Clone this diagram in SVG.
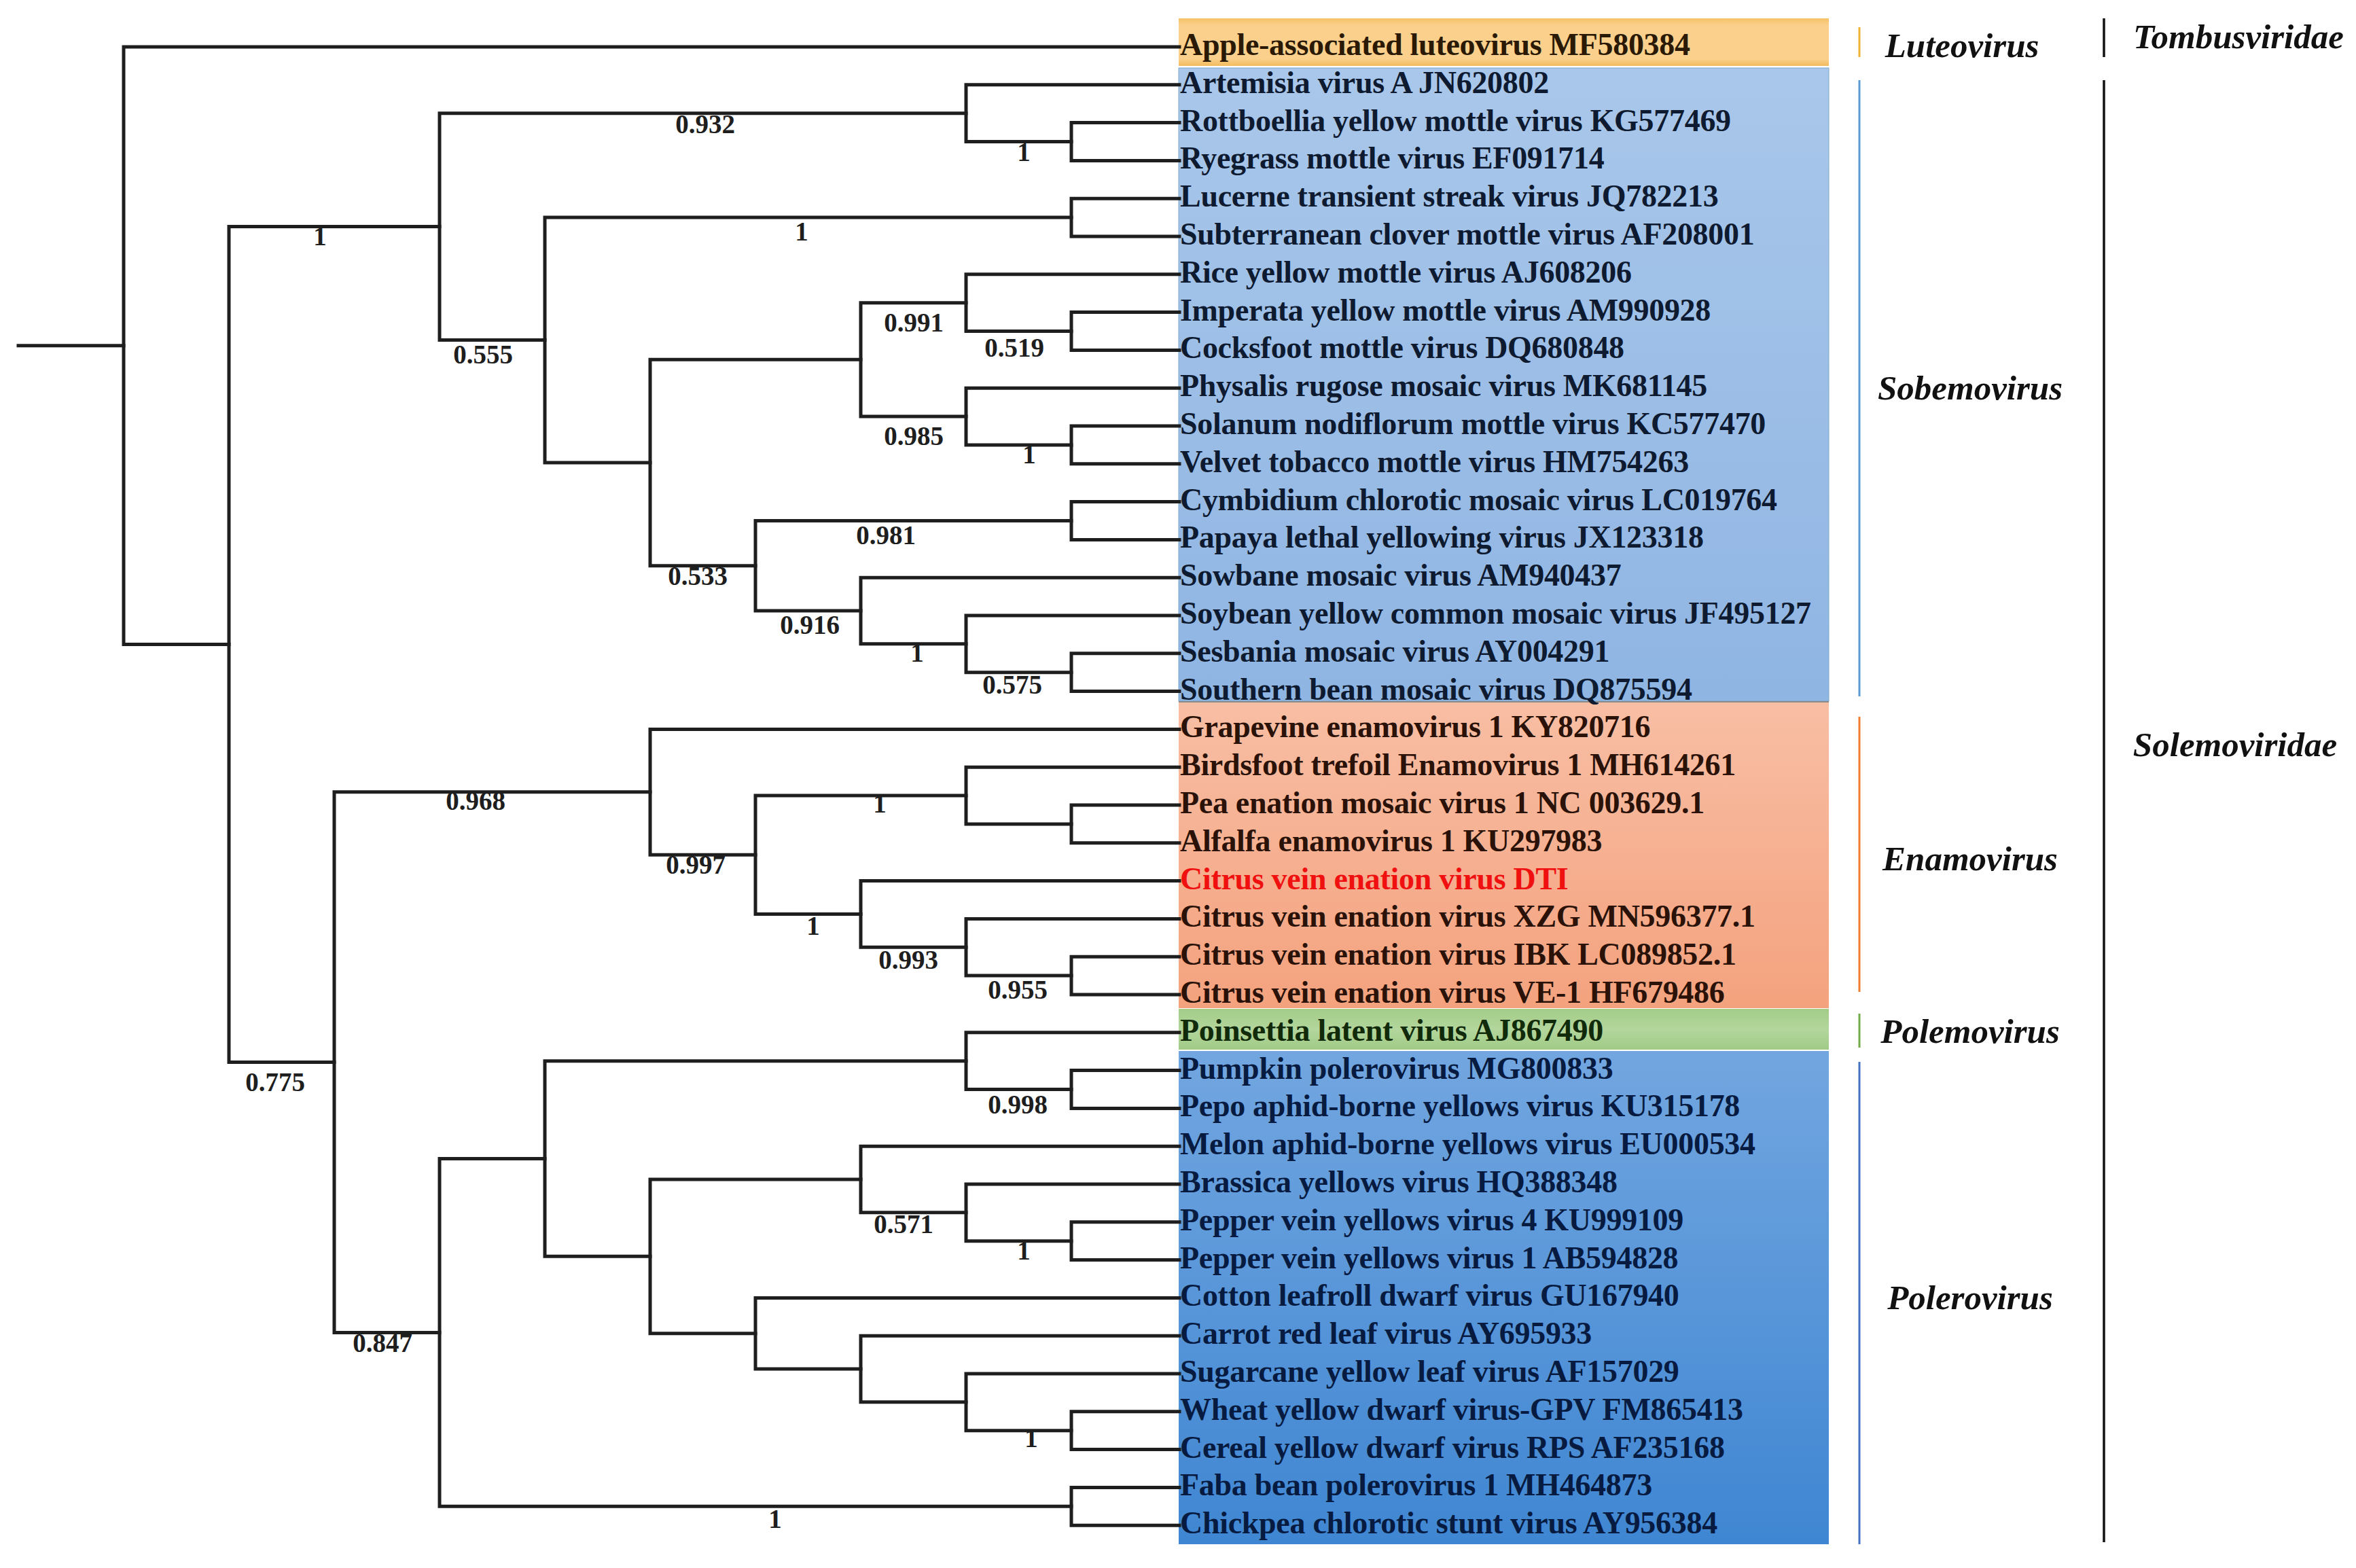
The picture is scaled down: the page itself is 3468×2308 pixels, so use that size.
<svg xmlns="http://www.w3.org/2000/svg" width="3468" height="2308" viewBox="0 0 3468 2308">
<defs>
<style>
.br{fill:none;stroke:#1e1e1e;stroke-width:5;stroke-linecap:square;stroke-linejoin:miter}
.lf{font-family:"Liberation Serif","Times New Roman",serif;font-weight:bold;font-size:46px;letter-spacing:-0.3px}
.sp{font-family:"Liberation Serif","Times New Roman",serif;font-weight:bold;font-size:39px;text-anchor:middle;fill:#1e1e1e}
.gn{font-family:"Liberation Serif","Times New Roman",serif;font-weight:bold;font-style:italic;font-size:51px;text-anchor:middle;fill:#111}
.t-ap{fill:#2a1a05}.t-sb{fill:#0e1a30}.t-en{fill:#2a1209}.t-pm{fill:#102a0a}.t-pl{fill:#071a40}
</style>
<linearGradient id="gAp" x1="0" y1="0" x2="0" y2="1"><stop offset="0" stop-color="#F6C266"/><stop offset="0.15" stop-color="#FAD08C"/><stop offset="0.85" stop-color="#FAD08C"/><stop offset="1" stop-color="#F3BB5C"/></linearGradient>
<linearGradient id="gSb" x1="0" y1="0" x2="0" y2="1"><stop offset="0" stop-color="#A9C7EA"/><stop offset="1" stop-color="#8FB5E3"/></linearGradient>
<linearGradient id="gEn" x1="0" y1="0" x2="0" y2="1"><stop offset="0" stop-color="#F8BEA4"/><stop offset="1" stop-color="#F4A27E"/></linearGradient>
<linearGradient id="gPm" x1="0" y1="0" x2="0" y2="1"><stop offset="0" stop-color="#A3CC88"/><stop offset="0.5" stop-color="#B3D69C"/><stop offset="1" stop-color="#A0CA86"/></linearGradient>
<linearGradient id="gPl" x1="0" y1="0" x2="0" y2="1"><stop offset="0" stop-color="#72A6E0"/><stop offset="1" stop-color="#3F86D2"/></linearGradient>
</defs>
<rect x="0" y="0" width="3468" height="2308" fill="#ffffff"/>

<g id="clade-boxes">
<rect id="box-luteovirus" x="1735" y="27" width="957" height="70" fill="url(#gAp)"/>
<rect id="box-sobemovirus" x="1735" y="100" width="957" height="932" fill="url(#gSb)" stroke="#7FA8C8" stroke-width="1"/>
<rect id="box-enamovirus" x="1735" y="1034" width="957" height="450" fill="url(#gEn)"/>
<line x1="1735" y1="1033" x2="2692" y2="1033" stroke="#8a8a8a" stroke-width="2"/>
<rect id="box-polemovirus" x="1735" y="1485" width="957" height="60" fill="url(#gPm)"/>
<rect id="box-polerovirus" x="1735" y="1547" width="957" height="726" fill="url(#gPl)"/>
</g>

<g id="connectors">
<path class="br" d="M27,508.8 H182"/>
<path class="br" d="M1736,69 H182 V948.6 H337"/>
<path class="br" d="M647,333.6 H337 V1563.6 H492"/>
<path class="br" d="M1422,166.65 H647 V500.6 H802"/>
<path class="br" d="M1736,124.8 H1422 V208.5 H1577"/>
<path class="br" d="M1736,180.6 H1577 V236.4 H1736"/>
<path class="br" d="M1577,320.1 H802 V681.05 H957"/>
<path class="br" d="M1736,292.2 H1577 V348 H1736"/>
<path class="br" d="M1267,529.35 H957 V832.75 H1112"/>
<path class="br" d="M1422,445.65 H1267 V613.05 H1422"/>
<path class="br" d="M1736,403.8 H1422 V487.5 H1577"/>
<path class="br" d="M1736,459.6 H1577 V515.4 H1736"/>
<path class="br" d="M1736,571.2 H1422 V654.9 H1577"/>
<path class="br" d="M1736,627 H1577 V682.8 H1736"/>
<path class="br" d="M1577,766.5 H1112 V899 H1267"/>
<path class="br" d="M1736,738.6 H1577 V794.4 H1736"/>
<path class="br" d="M1736,850.2 H1267 V947.85 H1422"/>
<path class="br" d="M1736,906 H1422 V989.7 H1577"/>
<path class="br" d="M1736,961.8 H1577 V1017.6 H1736"/>
<path class="br" d="M957,1165.8 H492 V1961.4 H647"/>
<path class="br" d="M1736,1073.4 H957 V1258.2 H1112"/>
<path class="br" d="M1422,1171.05 H1112 V1345.4 H1267"/>
<path class="br" d="M1736,1129.2 H1422 V1212.9 H1577"/>
<path class="br" d="M1736,1185 H1577 V1240.8 H1736"/>
<path class="br" d="M1736,1296.6 H1267 V1394.25 H1422"/>
<path class="br" d="M1736,1352.4 H1422 V1436.1 H1577"/>
<path class="br" d="M1736,1408.2 H1577 V1464 H1736"/>
<path class="br" d="M802,1705.5 H647 V2217.3 H1577"/>
<path class="br" d="M1736,2189.4 H1577 V2245.2 H1736"/>
<path class="br" d="M1422,1561.65 H802 V1849.35 H957"/>
<path class="br" d="M1736,1519.8 H1422 V1603.5 H1577"/>
<path class="br" d="M1736,1575.6 H1577 V1631.4 H1736"/>
<path class="br" d="M1267,1736 H957 V1962.7 H1112"/>
<path class="br" d="M1736,1687.2 H1267 V1784.85 H1422"/>
<path class="br" d="M1736,1743 H1422 V1826.7 H1577"/>
<path class="br" d="M1736,1798.8 H1577 V1854.6 H1736"/>
<path class="br" d="M1736,1910.4 H1112 V2015 H1267"/>
<path class="br" d="M1736,1966.2 H1267 V2063.85 H1422"/>
<path class="br" d="M1736,2022 H1422 V2105.7 H1577"/>
<path class="br" d="M1736,2077.8 H1577 V2133.6 H1736"/>
</g>

<g id="support-values">
<text class="sp" x="1038" y="196">0.932</text>
<text class="sp" x="1507" y="237">1</text>
<text class="sp" x="471" y="361">1</text>
<text class="sp" x="711" y="535">0.555</text>
<text class="sp" x="1180" y="354">1</text>
<text class="sp" x="1345" y="488">0.991</text>
<text class="sp" x="1493" y="525">0.519</text>
<text class="sp" x="1345" y="655">0.985</text>
<text class="sp" x="1515" y="682">1</text>
<text class="sp" x="1304" y="801">0.981</text>
<text class="sp" x="1027" y="861">0.533</text>
<text class="sp" x="1192" y="933">0.916</text>
<text class="sp" x="1350" y="974">1</text>
<text class="sp" x="1490" y="1021">0.575</text>
<text class="sp" x="700" y="1192">0.968</text>
<text class="sp" x="1024" y="1286">0.997</text>
<text class="sp" x="1295" y="1196">1</text>
<text class="sp" x="1197" y="1376">1</text>
<text class="sp" x="1337" y="1426">0.993</text>
<text class="sp" x="1498" y="1470">0.955</text>
<text class="sp" x="405" y="1606">0.775</text>
<text class="sp" x="1498" y="1639">0.998</text>
<text class="sp" x="1330" y="1815">0.571</text>
<text class="sp" x="1507" y="1854">1</text>
<text class="sp" x="563" y="1990">0.847</text>
<text class="sp" x="1518" y="2130">1</text>
<text class="sp" x="1141" y="2249">1</text>
</g>

<g id="leaves">
<text id="leaf-1" class="lf t-ap" x="1737" y="81">Apple-associated luteovirus MF580384</text>
<text id="leaf-2" class="lf t-sb" x="1737" y="136.8">Artemisia virus A JN620802</text>
<text id="leaf-3" class="lf t-sb" x="1737" y="192.6">Rottboellia yellow mottle virus KG577469</text>
<text id="leaf-4" class="lf t-sb" x="1737" y="248.4">Ryegrass mottle virus EF091714</text>
<text id="leaf-5" class="lf t-sb" x="1737" y="304.2">Lucerne transient streak virus JQ782213</text>
<text id="leaf-6" class="lf t-sb" x="1737" y="360">Subterranean clover mottle virus AF208001</text>
<text id="leaf-7" class="lf t-sb" x="1737" y="415.8">Rice yellow mottle virus AJ608206</text>
<text id="leaf-8" class="lf t-sb" x="1737" y="471.6">Imperata yellow mottle virus AM990928</text>
<text id="leaf-9" class="lf t-sb" x="1737" y="527.4">Cocksfoot mottle virus DQ680848</text>
<text id="leaf-10" class="lf t-sb" x="1737" y="583.2">Physalis rugose mosaic virus MK681145</text>
<text id="leaf-11" class="lf t-sb" x="1737" y="639">Solanum nodiflorum mottle virus KC577470</text>
<text id="leaf-12" class="lf t-sb" x="1737" y="694.8">Velvet tobacco mottle virus HM754263</text>
<text id="leaf-13" class="lf t-sb" x="1737" y="750.6">Cymbidium chlorotic mosaic virus LC019764</text>
<text id="leaf-14" class="lf t-sb" x="1737" y="806.4">Papaya lethal yellowing virus JX123318</text>
<text id="leaf-15" class="lf t-sb" x="1737" y="862.2">Sowbane mosaic virus AM940437</text>
<text id="leaf-16" class="lf t-sb" x="1737" y="918">Soybean yellow common mosaic virus JF495127</text>
<text id="leaf-17" class="lf t-sb" x="1737" y="973.8">Sesbania mosaic virus AY004291</text>
<text id="leaf-18" class="lf t-sb" x="1737" y="1029.6">Southern bean mosaic virus DQ875594</text>
<text id="leaf-19" class="lf t-en" x="1737" y="1085.4">Grapevine enamovirus 1 KY820716</text>
<text id="leaf-20" class="lf t-en" x="1737" y="1141.2">Birdsfoot trefoil Enamovirus 1 MH614261</text>
<text id="leaf-21" class="lf t-en" x="1737" y="1197">Pea enation mosaic virus 1 NC 003629.1</text>
<text id="leaf-22" class="lf t-en" x="1737" y="1252.8">Alfalfa enamovirus 1 KU297983</text>
<text id="leaf-23" class="lf" fill="#F01010" x="1737" y="1308.6">Citrus vein enation virus DTI</text>
<text id="leaf-24" class="lf t-en" x="1737" y="1364.4">Citrus vein enation virus XZG MN596377.1</text>
<text id="leaf-25" class="lf t-en" x="1737" y="1420.2">Citrus vein enation virus IBK LC089852.1</text>
<text id="leaf-26" class="lf t-en" x="1737" y="1476">Citrus vein enation virus VE-1 HF679486</text>
<text id="leaf-27" class="lf t-pm" x="1737" y="1531.8">Poinsettia latent virus AJ867490</text>
<text id="leaf-28" class="lf t-pl" x="1737" y="1587.6">Pumpkin polerovirus MG800833</text>
<text id="leaf-29" class="lf t-pl" x="1737" y="1643.4">Pepo aphid-borne yellows virus KU315178</text>
<text id="leaf-30" class="lf t-pl" x="1737" y="1699.2">Melon aphid-borne yellows virus EU000534</text>
<text id="leaf-31" class="lf t-pl" x="1737" y="1755">Brassica yellows virus HQ388348</text>
<text id="leaf-32" class="lf t-pl" x="1737" y="1810.8">Pepper vein yellows virus 4 KU999109</text>
<text id="leaf-33" class="lf t-pl" x="1737" y="1866.6">Pepper vein yellows virus 1 AB594828</text>
<text id="leaf-34" class="lf t-pl" x="1737" y="1922.4">Cotton leafroll dwarf virus GU167940</text>
<text id="leaf-35" class="lf t-pl" x="1737" y="1978.2">Carrot red leaf virus AY695933</text>
<text id="leaf-36" class="lf t-pl" x="1737" y="2034">Sugarcane yellow leaf virus AF157029</text>
<text id="leaf-37" class="lf t-pl" x="1737" y="2089.8">Wheat yellow dwarf virus-GPV FM865413</text>
<text id="leaf-38" class="lf t-pl" x="1737" y="2145.6">Cereal yellow dwarf virus RPS AF235168</text>
<text id="leaf-39" class="lf t-pl" x="1737" y="2201.4">Faba bean polerovirus 1 MH464873</text>
<text id="leaf-40" class="lf t-pl" x="1737" y="2257.2">Chickpea chlorotic stunt virus AY956384</text>
</g>

<g id="genus-bars">
<line x1="2737" y1="40" x2="2737" y2="84" stroke="#F0B232" stroke-width="3"/>
<line x1="2737" y1="118" x2="2737" y2="1025" stroke="#5B9BD5" stroke-width="3"/>
<line x1="2737" y1="1055" x2="2737" y2="1460" stroke="#ED7D31" stroke-width="3"/>
<line x1="2737" y1="1492" x2="2737" y2="1542" stroke="#70AD47" stroke-width="3"/>
<line x1="2737" y1="1563" x2="2737" y2="2273" stroke="#4472C4" stroke-width="3"/>
</g>
<g id="genus-labels">
<text id="g-luteovirus" class="gn" x="2888" y="84">Luteovirus</text>
<text id="g-sobemovirus" class="gn" x="2900" y="588">Sobemovirus</text>
<text id="g-enamovirus" class="gn" x="2900" y="1281">Enamovirus</text>
<text id="g-polemovirus" class="gn" x="2900" y="1535">Polemovirus</text>
<text id="g-polerovirus" class="gn" x="2900" y="1927">Polerovirus</text>
</g>
<g id="family-bars">
<line x1="3097" y1="27" x2="3097" y2="84" stroke="#111" stroke-width="3.5"/>
<line x1="3097" y1="118" x2="3097" y2="2270" stroke="#111" stroke-width="3.5"/>
</g>
<g id="family-labels">
<text id="f-tombusviridae" class="gn" x="3295" y="71">Tombusviridae</text>
<text id="f-solemoviridae" class="gn" x="3290" y="1113">Solemoviridae</text>
</g>
</svg>
